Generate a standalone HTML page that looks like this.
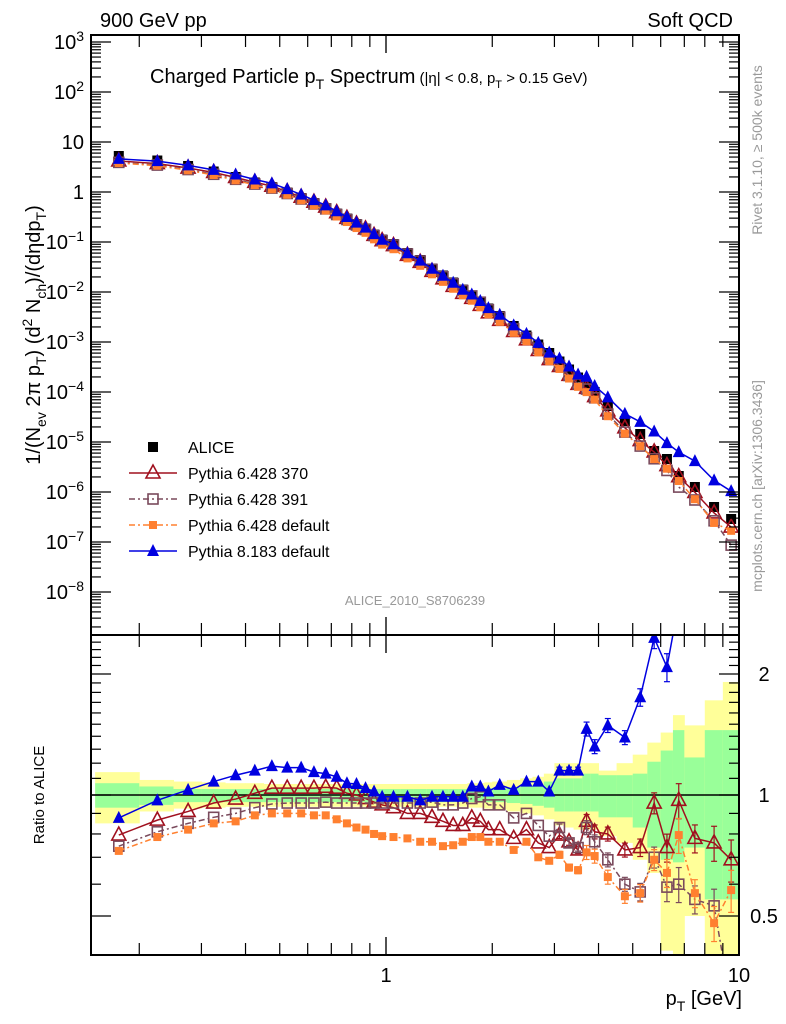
<!DOCTYPE html>
<html><head><meta charset="utf-8">
<style>
html,body{margin:0;padding:0;background:#fff;}
svg{display:block;font-family:"Liberation Sans",sans-serif;}
</style></head>
<body>
<svg id="chart" width="786" height="1024" viewBox="0 0 786 1024" xmlns="http://www.w3.org/2000/svg">
<defs>
<clipPath id="clipMain"><rect x="91" y="35" width="648" height="600"/></clipPath>
<clipPath id="clipRatio"><rect x="91" y="635" width="648" height="320"/></clipPath>
</defs>
<g id="bands" clip-path="url(#clipRatio)"></g>
<g id="grid"></g>
<g id="series"></g>
<g id="axes"></g>
<text x="100" y="27" font-size="20">900 GeV pp</text>
<text x="733" y="27" font-size="20" text-anchor="end">Soft QCD</text>
<text x="150" y="83" font-size="20">Charged Particle p<tspan dy="6" font-size="14">T</tspan><tspan dy="-6"> Spectrum</tspan><tspan font-size="15"> (|η| &lt; 0.8, p</tspan><tspan dy="5" font-size="11">T</tspan><tspan dy="-5" font-size="15"> &gt; 0.15 GeV)</tspan></text>
<text x="415" y="605" font-size="13" fill="#999" text-anchor="middle">ALICE_2010_S8706239</text>
<text transform="translate(762,150) rotate(-90)" font-size="14" fill="#999" text-anchor="middle">Rivet 3.1.10, ≥ 500k events</text>
<text transform="translate(762,486) rotate(-90)" font-size="14" fill="#999" text-anchor="middle">mcplots.cern.ch [arXiv:1306.3436]</text>
<text transform="translate(40,335) rotate(-90)" font-size="20" text-anchor="middle">1/(N<tspan dy="6" font-size="14">ev</tspan><tspan dy="-6"> 2π p</tspan><tspan dy="6" font-size="14">T</tspan><tspan dy="-6">) (d</tspan><tspan dy="-8" font-size="14">2</tspan><tspan dy="8"> N</tspan><tspan dy="6" font-size="14">ch</tspan><tspan dy="-6">)/(dηdp</tspan><tspan dy="6" font-size="14">T</tspan><tspan dy="-6">)</tspan></text>
<text transform="translate(44,795) rotate(-90)" font-size="15" text-anchor="middle">Ratio to ALICE</text>
<text x="742" y="1005" font-size="20" text-anchor="end">p<tspan dy="6" font-size="14">T</tspan><tspan dy="-6"> [GeV]</tspan></text>
<g id="legend"></g>
</svg>
<script>
// ---- data ----
const pT = [0.175,0.225,0.275,0.325,0.375,0.425,0.475,0.525,0.575,0.625,0.675,0.725,0.775,0.825,0.875,0.925,0.975,
 1.05,1.15,1.25,1.35,1.45,1.55,1.65,1.75,1.85,1.95,
 2.1,2.3,2.5,2.7,2.9,3.1,3.3,3.5,3.7,3.9,
 4.25,4.75,5.25,5.75,6.25,6.75,7.5,8.5,9.5];
const binEdges = [0.15,0.2,0.25,0.3,0.35,0.4,0.45,0.5,0.55,0.6,0.65,0.7,0.75,0.8,0.85,0.9,0.95,1.0,
 1.1,1.2,1.3,1.4,1.5,1.6,1.7,1.8,1.9,2.0,
 2.2,2.4,2.6,2.8,3.0,3.2,3.4,3.6,3.8,4.0,
 4.5,5,5.5,6,6.5,7,8,9,10];
const aliceLog = [0.72,0.63,0.52,0.41,0.30,0.19,0.10,-0.01,-0.12,-0.22,-0.32,-0.43,-0.53,-0.64,-0.73,-0.85,-0.95,
 -1.04,-1.22,-1.36,-1.53,-1.67,-1.81,-1.95,-2.07,-2.2,-2.33,
 -2.48,-2.68,-2.87,-3.05,-3.22,-3.39,-3.55,-3.71,-3.86,-4.0,
 -4.28,-4.58,-4.84,-5.18,-5.34,-5.68,-5.9,-6.3,-6.54];
const ratio370 = [0.795,0.866,0.91,0.955,0.977,1.01,1.04,1.04,1.04,1.04,1.045,1.04,1.01,1.0,0.98,0.96,0.945,
 0.93,0.9,0.9,0.88,0.86,0.84,0.84,0.877,0.86,0.82,
 0.82,0.78,0.82,0.76,0.74,0.795,0.765,0.73,0.86,0.81,
 0.80,0.73,0.74,0.955,0.74,0.97,0.78,0.76,0.69];
const ratio391 = [0.746,0.81,0.85,0.88,0.9,0.93,0.95,0.955,0.955,0.955,0.96,0.955,0.955,0.955,0.955,0.955,0.955,
 0.955,0.955,0.955,0.96,0.945,0.945,0.955,0.98,0.99,0.945,
 0.945,0.877,0.9,0.84,0.79,0.83,0.76,0.74,0.83,0.765,
 0.69,0.60,0.574,0.70,0.59,0.60,0.55,0.53,0.3];
const ratioP6def = [0.726,0.786,0.82,0.85,0.86,0.89,0.9,0.9,0.9,0.89,0.89,0.87,0.85,0.83,0.82,0.8,0.79,
 0.786,0.78,0.765,0.765,0.746,0.75,0.765,0.786,0.786,0.765,
 0.765,0.73,0.765,0.70,0.686,0.71,0.66,0.65,0.72,0.705,
 0.625,0.56,0.57,0.69,0.64,0.795,0.57,0.48,0.58];
const ratioP8 = [0.877,0.97,1.03,1.08,1.12,1.15,1.18,1.17,1.17,1.14,1.13,1.11,1.07,1.065,1.04,1.02,0.99,
 0.99,0.99,0.97,0.99,0.99,0.99,0.99,1.05,1.05,1.02,
 1.06,1.03,1.08,1.08,1.02,1.15,1.15,1.15,1.46,1.32,
 1.49,1.39,1.75,2.46,2.08,3.0,3.3,3.4,3.6];
const errRel = [0,0,0,0,0,0,0,0,0,0,0,0,0,0,0,0,0, 0,0,0,0,0,0,0,0,0,0,
 0,0,0,0,0,0.02,0.02,0.02,0.04,0.04, 0.04,0.04,0.05,0.06,0.08,0.1,0.08,0.1,0.12];
const yelHi = [1.14,1.09,1.08,1.075,1.07,1.07,1.065,1.065,1.065,1.065,1.065,1.065,1.065,1.065,1.065,1.065,1.065,
 1.065,1.065,1.065,1.065,1.065,1.065,1.065,1.07,1.07,1.075,
 1.08,1.09,1.1,1.11,1.13,1.2,1.2,1.2,1.2,1.2,
 1.15,1.2,1.26,1.35,1.43,1.58,1.49,1.72,1.91];
const yelLo = [0.85,0.91,0.925,0.93,0.935,0.935,0.935,0.935,0.935,0.935,0.935,0.935,0.935,0.935,0.935,0.935,0.935,
 0.935,0.935,0.935,0.935,0.935,0.935,0.935,0.93,0.93,0.925,
 0.92,0.91,0.9,0.89,0.87,0.84,0.83,0.82,0.82,0.82,
 0.79,0.76,0.69,0.64,0.41,0.39,0.5,0.39,0.39];
const grnHi = [1.07,1.05,1.035,1.035,1.035,1.035,1.035,1.035,1.035,1.035,1.035,1.035,1.035,1.035,1.035,1.035,1.035,
 1.035,1.035,1.035,1.035,1.035,1.035,1.035,1.035,1.04,1.04,
 1.04,1.045,1.05,1.06,1.08,1.1,1.1,1.1,1.13,1.13,
 1.12,1.12,1.13,1.21,1.29,1.45,1.24,1.45,1.45];
const grnLo = [0.93,0.945,0.96,0.96,0.96,0.96,0.96,0.96,0.96,0.96,0.96,0.96,0.96,0.96,0.96,0.96,0.96,
 0.96,0.96,0.96,0.96,0.96,0.96,0.96,0.96,0.96,0.96,
 0.96,0.955,0.95,0.94,0.93,0.91,0.91,0.91,0.91,0.91,
 0.88,0.88,0.83,0.74,0.69,0.68,0.74,0.55,0.55];
const mainTickExps = [-8,-7,-6,-5,-4,-3,-2,-1,0,1,2,3];
const mainTickSup = ["−8","−7","−6","−5","−4","−3","−2","−1","","","2","3"];
const mainTickBase = ["10","10","10","10","10","10","10","10","1","10","10","10"];
const ratioTickVals = [0.5,1,2];
const ratioTickLabels = ["0.5","1","2"];
const xTickVals = [1,10];
const xTickLabels = ["1","10"];

// ---- axes ----
const NS="http://www.w3.org/2000/svg";
const L=91,R=739,T=35,MB=635,RB=955;
const xS = p => 386 + 353*Math.log10(p);
const yM = lg => 192 - 50*lg;
const yR = r => 795 - 402*Math.log10(r);
function mk(tag, attrs, parent){const e=document.createElementNS(NS,tag);for(const k in attrs)e.setAttribute(k,attrs[k]);parent.appendChild(e);return e;}
const svg=document.getElementById('chart');
const gB=document.getElementById('bands'), gS=document.getElementById('series'), gA=document.getElementById('axes'), gL=document.getElementById('legend');

for(let i=0;i<pT.length;i++){
  const x0=xS(binEdges[i]), x1=xS(binEdges[i+1]);
  const ry=mk('rect',{x:x0,y:yR(yelHi[i]),width:x1-x0+0.5,height:yR(yelLo[i])-yR(yelHi[i]),fill:'#ffff99'},gB);
  
  
  const rg=mk('rect',{x:x0,y:yR(grnHi[i]),width:x1-x0+0.5,height:yR(grnLo[i])-yR(grnHi[i]),fill:'#99ff99'},gB);
  
  
}
const refl=mk('line',{x1:L,x2:R,y1:yR(1),y2:yR(1),stroke:'#000','stroke-width':1.5},gS);



const f1=mk('rect',{x:L,y:T,width:R-L,height:MB-T,fill:'none',stroke:'#000','stroke-width':2},gA);


const f2=mk('rect',{x:L,y:MB,width:R-L,height:RB-MB,fill:'none',stroke:'#000','stroke-width':2},gA);



function tick(x1,y1,x2,y2){mk('line',{x1,y1,x2,y2,stroke:'#000','stroke-width':1.2},gA);}
const xt=[];for(let d=0.1;d<1;d+=0.1)xt.push(+d.toFixed(1));for(let d=1;d<=10;d++)xt.push(d);
xt.forEach(p=>{if(p<0.146)return;const x=xS(p);const big=(p===1||p===10);const len=big?18:12;
  tick(x,T,x,T+len);tick(x,MB,x,MB-len);tick(x,MB,x,MB+len);tick(x,RB,x,RB-len);});
for(let e=-9;e<=3;e++){for(let m=1;m<10;m++){const lg=e+Math.log10(m);const y=yM(lg);if(y<T||y>MB)continue;
  const len=m===1?20:10;tick(L,y,L+len,y);tick(R,y,R-len,y);}}
mainTickExps.forEach((e,i)=>{const t=mk('text',{x:84,y:yM(e)+7,'font-size':20,'text-anchor':'end'},gA);
  t.appendChild(document.createTextNode(mainTickBase[i]));
  if(mainTickSup[i]){const s=mk('tspan',{dy:-8,'font-size':14},t);s.textContent=mainTickSup[i];}
  
  });
for(let v=0.4;v<=2.51;v+=0.1){const r=+v.toFixed(1);const y=yR(r);if(y<MB||y>RB)continue;
  const big=ratioTickVals.includes(r);const len=big?20:10;tick(L,y,L+len,y);tick(R,y,R-len,y);}
ratioTickVals.forEach((v,i)=>{const t=mk('text',{x:764,y:yR(v)+7,'font-size':20,'text-anchor':'middle'},gA);t.textContent=ratioTickLabels[i];
  
  });
xTickVals.forEach((v,i)=>{const t=mk('text',{x:xS(v),y:982,'font-size':20,'text-anchor':'middle'},gA);t.textContent=xTickLabels[i];
  
  });

function marker(kind,x,y,color,parent){
  if(kind==='sqf'){return mk('rect',{x:x-5,y:y-5,width:10,height:10,fill:color},parent);}
  if(kind==='sqs'){return mk('rect',{x:x-4,y:y-4,width:8,height:8,fill:color},parent);}
  if(kind==='sqo'){return mk('rect',{x:x-5,y:y-5,width:10,height:10,fill:'none',stroke:color,'stroke-width':1.6},parent);}
  if(kind==='tro'){return mk('polygon',{points:`${x},${y-8} ${x-7},${y+5} ${x+7},${y+5}`,fill:'none',stroke:color,'stroke-width':1.6},parent);}
  if(kind==='trf'){return mk('polygon',{points:`${x},${y-7} ${x-6},${y+5} ${x+6},${y+5}`,fill:color},parent);}
}
const series=[
 {name:'pythia6-370',r:ratio370,color:'#a0101e',kind:'tro',dash:''},
 {name:'pythia6-391',r:ratio391,color:'#7a4a5c',kind:'sqo',dash:'6,3,2,3'},
 {name:'pythia6-default',r:ratioP6def,color:'#ff8030',kind:'sqs',dash:'6,3,2,3'},
 {name:'pythia8-default',r:ratioP8,color:'#0000e0',kind:'trf',dash:''}
];
const gMain=mk('g',{'clip-path':'url(#clipMain)'},gS);


const gRat=mk('g',{'clip-path':'url(#clipRatio)'},gS);


pT.forEach((p,i)=>{const m=marker('sqf',xS(p),yM(aliceLog[i]),'#000',gMain);
  
  });
series.forEach(s=>{
  const ptsM=pT.map((p,i)=>[xS(p),yM(aliceLog[i]+Math.log10(s.r[i]))]);
  const ptsR=pT.map((p,i)=>[xS(p),yR(s.r[i])]);
  const lm=mk('polyline',{points:ptsM.map(q=>q.join(',')).join(' '),fill:'none',stroke:s.color,'stroke-width':1.5,'stroke-dasharray':s.dash},gMain);
  
  
  const lr=mk('polyline',{points:ptsR.map(q=>q.join(',')).join(' '),fill:'none',stroke:s.color,'stroke-width':1.5,'stroke-dasharray':s.dash},gRat);
  
  
  pT.forEach((p,i)=>{
    if(errRel[i]>0){const x=xS(p);const y1=yR(s.r[i]*(1+errRel[i])),y2=yR(s.r[i]*(1-errRel[i]));
      mk('line',{x1:x,x2:x,y1,y2,stroke:s.color,'stroke-width':1.2},gRat);
      mk('line',{x1:x-3,x2:x+3,y1,y2:y1,stroke:s.color,'stroke-width':1.2},gRat);
      mk('line',{x1:x-3,x2:x+3,y1:y2,y2,stroke:s.color,'stroke-width':1.2},gRat);}
    const m1=marker(s.kind,ptsM[i][0],ptsM[i][1],s.color,gMain);
    
    
    const m2=marker(s.kind,ptsR[i][0],ptsR[i][1],s.color,gRat);
    
    
  });
});
const legItems=[
 {label:'ALICE',kind:'sqf',color:'#000',dash:null},
 {label:'Pythia 6.428 370',kind:'tro',color:'#a0101e',dash:''},
 {label:'Pythia 6.428 391',kind:'sqo',color:'#7a4a5c',dash:'6,3,2,3'},
 {label:'Pythia 6.428 default',kind:'sqs',color:'#ff8030',dash:'6,3,2,3'},
 {label:'Pythia 8.183 default',kind:'trf',color:'#0000e0',dash:''}
];
legItems.forEach((it,i)=>{
  const y=447+26*i;
  const g=mk('g',{},gL);
  
  
  if(it.dash!==null)mk('line',{x1:129,x2:177,y1:y,y2:y,stroke:it.color,'stroke-width':1.5,'stroke-dasharray':it.dash},g);
  marker(it.kind,153,y,it.color,g);
  const t=mk('text',{x:188,y:y+6,'font-size':16},g);t.textContent=it.label;
});
</script>
</body></html>
